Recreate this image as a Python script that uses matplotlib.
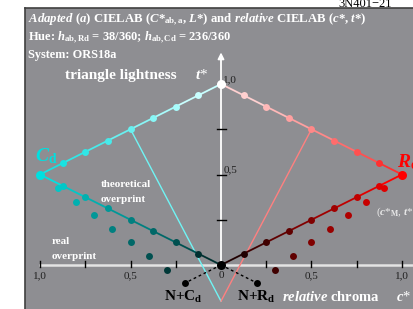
import matplotlib.pyplot as plt

plt.rcParams['mathtext.fontset'] = 'custom'
plt.rcParams['mathtext.rm'] = 'Liberation Serif:bold'
plt.rcParams['mathtext.it'] = 'Liberation Serif:italic:bold'
plt.rcParams['mathtext.bf'] = 'Liberation Serif:bold'
plt.rcParams['font.family'] = 'Liberation Serif'

# theoretical overprint: white -> colour -> black (relative c*, t*)
c_upper = [0.0, 0.125, 0.25, 0.375, 0.5, 0.625, 0.75, 0.875, 1.0]
t_upper = [1.0, 0.9375, 0.875, 0.8125, 0.75, 0.6875, 0.625, 0.5625, 0.5]
c_lower = [1.0, 0.875, 0.75, 0.625, 0.5, 0.375, 0.25, 0.125, 0.0]
t_lower = [0.5, 0.4375, 0.375, 0.3125, 0.25, 0.1875, 0.125, 0.0625, 0.0]

# real overprint (measured)
c_real = [0.9, 0.8, 0.7, 0.6, 0.5, 0.4, 0.3, 0.2]
t_real = [0.425, 0.35, 0.275, 0.2, 0.125, 0.05, -0.025, -0.1]

cyan_up = ['#ffffff', '#c8ffff', '#a8fcfc', '#88f6f6', '#68f0f0',
           '#48eaea', '#30e6e6', '#18e2e2', '#00e0e0']
cyan_lo = ['#00e0e0', '#00c8c8', '#00b0b0', '#009898', '#008080',
           '#006868', '#005050', '#003030', '#000000']
red_up = ['#ffffff', '#ffd0d0', '#ffb8b8', '#ffa0a0', '#ff8888',
          '#ff6c6c', '#ff5050', '#ff3030', '#ff0000']
red_lo = ['#ff0000', '#e00000', '#c00000', '#a00000', '#800000',
          '#600000', '#400000', '#200000', '#000000']
cyan_real = ['#00c8c8', '#00b0b0', '#009898', '#008080', '#006868',
             '#005050', '#003838', '#000000']
red_real = ['#e00000', '#c80000', '#b00000', '#980000', '#800000',
            '#600000', '#400000', '#000000']

x_ticks = [-1.0, -0.75, -0.5, -0.25, 0.25, 0.5, 0.75, 1.0]
x_labels = {-1.0: '1,0', -0.5: '0,5', 0.0: '0', 0.5: '0,5', 1.0: '1,0'}
y_ticks = [0.25, 0.5, 0.75]

W, H = 413, 309
fig = plt.figure(figsize=(W / 100, H / 100), dpi=100)
ax = fig.add_axes([25 / W, 0, 388 / W, 301 / H])
ax.set_facecolor('#8e8e92')
ax.set_xlim(-1.0829, 1.0608)
ax.set_ylim(-0.2431, 1.4199)
ax.set_xticks([])
ax.set_yticks([])
for s in ('right', 'bottom'):
    ax.spines[s].set_visible(False)
for s in ('left', 'top'):
    ax.spines[s].set_color('#404040')
    ax.spines[s].set_linewidth(1.2)


def px(x, y):
    # reference pixel -> data coords (text placement only)
    return (x - 221) / 181, (265 - y) / 181


# axes
ax.plot([-1.0, 1.07], [0, 0], color='#e4e4e4', lw=1.8, zorder=1)
ax.annotate('', xy=(0, 1.19), xytext=(0, 0),
            arrowprops=dict(arrowstyle='-|>', color='white', lw=1.3,
                            mutation_scale=9), zorder=1)
for xt in x_ticks:
    ax.plot([xt, xt], [-0.012, 0.022], color='black', lw=1, zorder=2)
for yt in y_ticks:
    ax.plot([-0.022, 0.025], [yt, yt], color='black', lw=1, zorder=2)
for xv, lab in x_labels.items():
    ax.text(xv, -0.035, lab, ha='center', va='top', fontsize=8,
            color='#202020')
ax.text(0.012, 0.5, '0,5', ha='left', va='bottom', fontsize=8, color='#202020')
ax.text(0.012, 1.0, '1,0', ha='left', va='bottom', fontsize=8, color='#202020')

# triangle lines to lightness
ax.plot([-c_upper[4], 0], [t_upper[4], -0.2], color='#70f4f4', lw=1, zorder=2)
ax.plot([c_upper[4], 0], [t_upper[4], -0.2], color='#ff8080', lw=1, zorder=2)


def chain(cs, ts, cols, sign):
    for i in range(len(cs) - 1):
        ax.plot([sign * cs[i], sign * cs[i + 1]], [ts[i], ts[i + 1]],
                color=cols[i + 1] if cols[i] == '#ffffff' else cols[i],
                lw=1.3, zorder=3)
    for i in range(len(cs)):
        ax.plot(sign * cs[i], ts[i], 'o', color=cols[i], ms=5, mec='none',
                zorder=4)


chain(c_upper, t_upper, cyan_up, -1)
chain(c_lower, t_lower, cyan_lo, -1)
chain(c_upper, t_upper, red_up, 1)
chain(c_lower, t_lower, red_lo, 1)

for c, t, col in zip(c_real, t_real, cyan_real):
    ax.plot(-c, t, 'o', color=col, ms=5, mec='none', zorder=4)
for c, t, col in zip(c_real, t_real, red_real):
    ax.plot(c, t, 'o', color=col, ms=5, mec='none', zorder=4)

# end points
ax.plot(0, 1, 'o', color='white', ms=6.5, mec='none', zorder=5)
ax.plot(0, 0, 'o', color='black', ms=6.5, mec='none', zorder=5)
ax.plot(-1, 0.5, 'o', color='#00e0e0', ms=6.5, mec='none', zorder=5)
ax.plot(1, 0.5, 'o', color='#ff0000', ms=6.5, mec='none', zorder=5)

ax.plot([0, -c_real[-1]], [0, t_real[-1]], ls=(0, (2, 2)), color='black',
        lw=1, zorder=3)
ax.plot([0, c_real[-1]], [0, t_real[-1]], ls=(0, (2, 2)), color='black',
        lw=1, zorder=3)

# texts
ax.text(*px(28, 20),
        r'$\mathit{Adapted\ (a)}$ CIELAB ($\mathit{C}$*$_{\mathrm{ab,a}}$, '
        r'$\mathit{L}$*) and $\mathit{relative}$ CIELAB ($\mathit{c}$*, $\mathit{t}$*)',
        color='white', fontsize=9.2, fontweight='bold', va='center')
ax.text(*px(28, 38),
        r'Hue: $\mathit{h}_{\mathrm{ab,Rd}}$ = 38/360; '
        r'$\mathit{h}_{\mathrm{ab,Cd}}$ = 236/360',
        color='white', fontsize=9, fontweight='bold', va='center')
ax.text(*px(28, 55), 'System: ORS18a', color='white', fontsize=8.8,
        fontweight='bold', va='center')
ax.text(*px(65, 75), 'triangle lightness', color='white', fontsize=11,
        fontweight='bold', va='center')
ax.text(*px(195, 75), r'$\mathit{t}$*', color='white', fontsize=11,
        va='center')
ax.text(*px(35, 156), r'$\mathit{C}_{\mathrm{d}}$', color='#00e0e0',
        fontsize=14, va='center')
ax.text(*px(397, 162), r'$\mathit{R}_{\mathrm{d}}$', color='#ff0000',
        fontsize=14, va='center')
ax.text(*px(101, 184), 'theoretical', color='white', fontsize=8,
        fontweight='bold', va='center')
ax.text(*px(101, 200), 'overprint', color='white', fontsize=8,
        fontweight='bold', va='center')
ax.text(*px(52, 242), 'real', color='white', fontsize=8,
        fontweight='bold', va='center')
ax.text(*px(52, 257), 'overprint', color='white', fontsize=8,
        fontweight='bold', va='center')
ax.text(*px(376, 212), r'($\mathit{c}$*$_{\mathrm{M}}$, $\mathit{t}$*',
        color='#e8e8e8', fontsize=8, va='center')
ax.text(*px(164, 297), r'N+C$_{\mathrm{d}}$', color='black', fontsize=11,
        fontweight='bold', va='center')
ax.text(*px(237, 297), r'N+R$_{\mathrm{d}}$', color='black', fontsize=11,
        fontweight='bold', va='center')
ax.text(*px(282, 297), r'$\mathit{relative}$ chroma', color='white',
        fontsize=10.5, fontweight='bold', va='center')
ax.text(*px(396, 297), r'$\mathit{c}$*', color='white', fontsize=10.5,
        va='center')

fig.text(338 / W, 1 - 7 / H, '3N401\u221221', color='black', fontsize=9,
         va='baseline')

fig.savefig('out.png', dpi=100)
